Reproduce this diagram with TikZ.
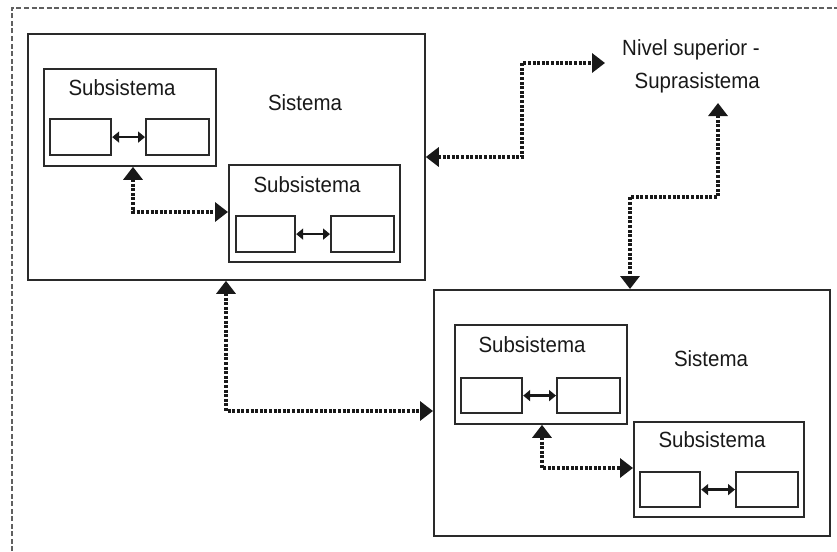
\documentclass[tikz,border=0pt]{standalone}
\usepackage{fontspec}
\setmainfont{Liberation Sans}[FakeStretch=0.93]
\usetikzlibrary{arrows.meta}
\definecolor{boxline}{HTML}{2A2A2A}
\definecolor{frameline}{HTML}{606060}
\tikzset{
  sysbox/.style={draw=boxline, line width=1.8pt, fill=none, inner sep=0pt, anchor=north west},
  innerbox/.style={draw=boxline, line width=2.2pt, inner sep=0pt, anchor=north west},
  lbl/.style={inner sep=0pt, text=black!90, font=\fontsize{22}{33}\selectfont},
  dotarrow/.style={draw=black!90, line width=4pt, dash pattern=on 3pt off 1.6pt,
     {Triangle[length=13pt,width=19pt]}-{Triangle[length=13pt,width=19pt]}},
  smallarrow/.style={draw=black!90, line width=2.4pt,
     {Triangle[length=7pt,width=11pt]}-{Triangle[length=7pt,width=11pt]}},
  frame/.style={draw=frameline, line width=1.3pt, dash pattern=on 5pt off 2.5pt}
}
\begin{document}
\begin{tikzpicture}[x=1pt, y=-1pt]
\useasboundingbox (0,0) rectangle (837,551);
\coordinate (fbl) at (12,551);
\coordinate (ftl) at (12,8);
\coordinate (ftr) at (837,8);
\draw[frame] (fbl) -- (ftl) -- (ftr);

% System 1
\node[sysbox, minimum width=397pt, minimum height=246pt] (sys1) at (27,33) {};
\node[lbl] (sys1t) at (305,103) {Sistema};
\node[sysbox, minimum width=172pt, minimum height=97pt] (sub1a) at (43,68) {};
\node[lbl] (sub1at) at (122,88) {Subsistema};
\node[innerbox, minimum width=61pt, minimum height=36pt] (a1) at (49,118) {};
\node[innerbox, minimum width=63pt, minimum height=36pt] (a2) at (145,118) {};
\node[sysbox, minimum width=171pt, minimum height=97pt] (sub1b) at (228,164) {};
\node[lbl] (sub1bt) at (307,185) {Subsistema};
\node[innerbox, minimum width=59pt, minimum height=36pt] (b1) at (235,215) {};
\node[innerbox, minimum width=63pt, minimum height=36pt] (b2) at (330,215) {};

% System 2
\node[sysbox, minimum width=396pt, minimum height=246pt] (sys2) at (433,289) {};
\node[lbl] (sys2t) at (711,359) {Sistema};
\node[sysbox, minimum width=172pt, minimum height=99pt] (sub2a) at (454,324) {};
\node[lbl] (sub2at) at (532,345) {Subsistema};
\node[innerbox, minimum width=61pt, minimum height=35pt] (c1) at (460,377) {};
\node[innerbox, minimum width=63pt, minimum height=35pt] (c2) at (556,377) {};
\node[sysbox, minimum width=170pt, minimum height=95pt] (sub2b) at (633,421) {};
\node[lbl] (sub2bt) at (712,440) {Subsistema};
\node[innerbox, minimum width=60pt, minimum height=35pt] (d1) at (639,471) {};
\node[innerbox, minimum width=62pt, minimum height=35pt] (d2) at (735,471) {};

% Suprasistema
\node[lbl, align=right, anchor=east] (sup) at (760,66) {Nivel superior -\\Suprasistema};
\coordinate (supbot) at (718,103);

% small arrows
\draw[smallarrow] (a1) -- (a2);
\draw[smallarrow] (b1) -- (b2);
\draw[smallarrow] (c1) -- (c2);
\draw[smallarrow] (d1) -- (d2);

% dotted arrows
\draw[dotarrow] (133,0 |- sub1a.south) |- (sub1b.west |- 0,212);
\draw[dotarrow] (542,0 |- sub2a.south) |- (sub2b.west |- 0,468);
\draw[dotarrow] (226,0 |- sys1.south) |- (sys2.west |- 0,411);
\draw[dotarrow, shorten >=17pt] (sys1.east |- 0,157) -| (522,63) -- (sup.west |- 0,63);
\draw[dotarrow] (supbot) -- (718,197) -| (sys2.north -| 630,0);
\end{tikzpicture}
\end{document}
